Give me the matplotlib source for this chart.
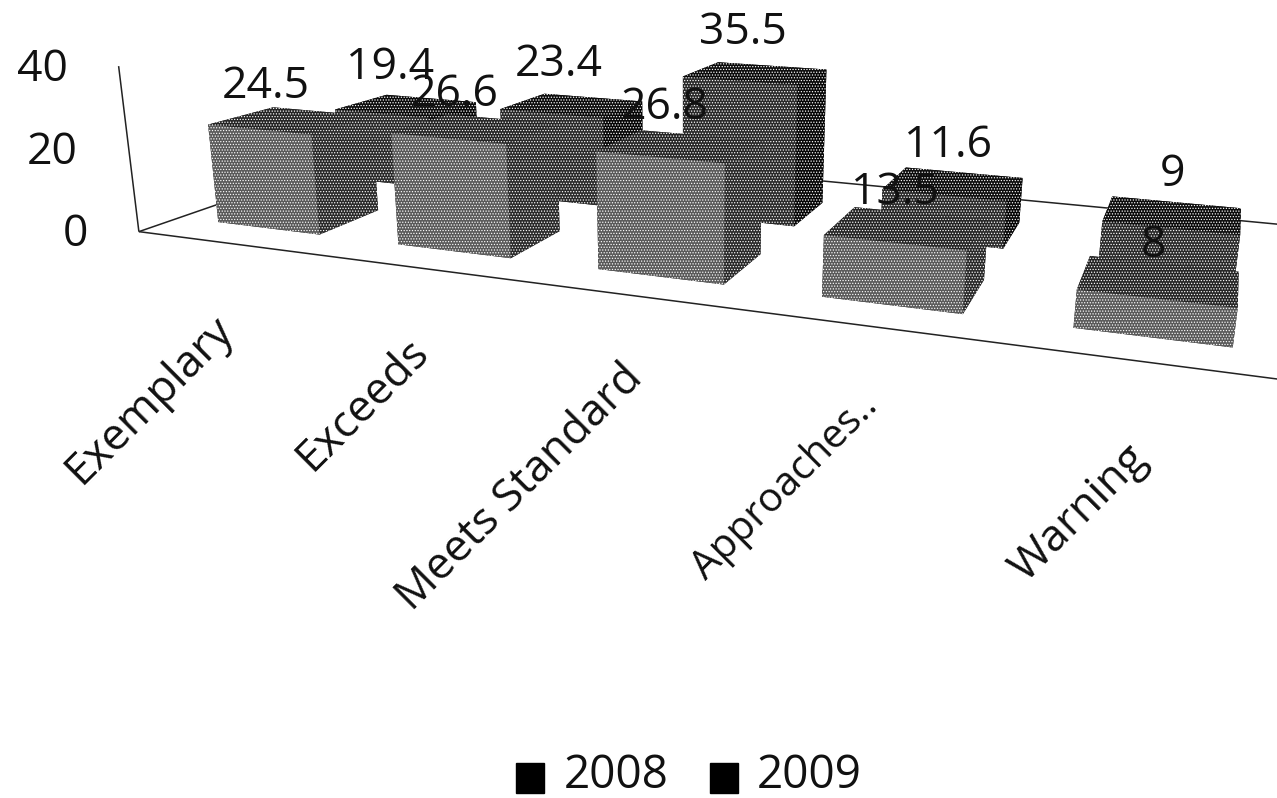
import numpy as np
import matplotlib
matplotlib.use("Agg")
import matplotlib.pyplot as plt
from matplotlib.patches import Patch
from mpl_toolkits.mplot3d.art3d import Line3DCollection

plt.rcParams['font.family'] = ['Open Sans', 'DejaVu Sans']
plt.rcParams['hatch.color'] = 'white'
plt.rcParams['hatch.linewidth'] = 0.55

categories = ['Exemplary', 'Exceeds', 'Meets Standard', 'Approaches..', 'Warning']
values_2008 = [24.5, 26.6, 26.8, 13.5, 8]
values_2009 = [19.4, 23.4, 35.5, 11.6, 9]
y_ticks = [0, 20, 40]

# bar footprint inside a category cell / a series row
XL, XR = 0.225, 0.8
F0, F1 = 0.2, 0.72    # 2008 row depth
B0, B1 = 1.27, 1.8    # 2009 row depth

# camera calibration: (cell, x side, depth, height, reference pixel, weight)
calib = [
 (0,0,0,0,149,228,1),(0,0,0,40,131,62,.4),(0,0,2,0,386,147,1),
 (0,XL,F0,0,218,222,1),(0,XR,F0,0,320,233,1),(0,XR,F1,0,368,212,1),(0,XL,F0,24.5,212,125,1),(0,XR,F0,24.5,317,133,1),(0,XL,F1,24.5,263,111,1),
 (1,XL,F0,0,400,243,1),(1,XR,F0,0,512,257,1),(1,XR,F1,0,553,231,1),(1,XR,F0,26.6,510,140,1),
 (2,XL,F0,0,600,268,1),(2,XR,F0,0,725,283,1),(2,XR,F1,0,755,259,1),(2,XL,F0,26.8,597,150,1),(2,XR,F0,26.8,725,163,1),(2,XL,F1,26.8,633,135,1),
 (3,XL,F0,0,823,295,1),(3,XR,F0,0,965,312,1),(3,XR,F1,0,982,290,1),(3,XL,F0,13.5,825,236,1),(3,XL,F1,13.5,853,212,1),
 (4,XL,F0,0,1073,325,1),(4,XR,F0,0,1230,345,1),(4,XL,F0,8,1076,288,1),(4,XR,F0,8,1233,310,1),(4,XL,F1,8,1088,261,1),(4,XR,F1,8,1237,275,1),
 (0,XL,B0,19.4,340,108,1),(0,XL,B1,19.4,383,97,1),(0,XR,B1,19.4,472,103,1),
 (1,XL,B0,23.4,507,107,1),
 (2,XL,B0,35.5,688,75,2),(2,XL,B1,35.5,713,63,2),(2,XR,B1,35.5,823,70,2),(2,XR,B0,35.5,802,83,2),(2,XR,B0,0,798,222,1),(2,XR,B1,0,820,205,1),
 (3,XL,B1,11.6,907,169,1),(3,XR,B1,11.6,1022,179,1),(3,XR,B0,0,1007,243,1),(3,XR,B1,0,1019,220,1),
 (4,XL,B1,9,1113,198,1),(4,XR,B1,9,1242,209,1),(4,XL,B0,9,1107,225,1),(4,XL,B0,0,1102,256,1),(4,XR,B0,0,1237,268,1),
]
A = []
for c, s, y, z, u, v, w in calib:
    x = c + s
    A.append([w*k for k in [x, y, z, 1, 0, 0, 0, 0, -u*x, -u*y, -u*z, -u]])
    A.append([w*k for k in [0, 0, 0, 0, x, y, z, 1, -v*x, -v*y, -v*z, -v]])
P = np.linalg.svd(np.array(A, float))[2][-1].reshape(3, 4)
P = P / P[2, 3]
M = np.array([P[0], P[1], [-0.5, 1.0, -0.02, 0.0], P[2]])

fig = plt.figure(figsize=(12.77, 7.98), dpi=100)
ax = fig.add_axes([0, 0, 1, 1], projection='3d')
ax.get_proj = lambda: M
ax.apply_aspect = lambda position=None: None
ax.viewLim.intervalx = (0, 1277)
ax.viewLim.intervaly = (798, 0)
ax.set_axis_off()
ax.computed_zorder = False

front, back = -0.1, 2.3
frame = [[(0, front, 0), (0, front, 40)], [(0, front, 0), (5.4, front, 0)],
         [(0, front, 0), (0, back, 0)], [(0, back, 0), (5.4, back, 0)]]
ax.add_collection3d(Line3DCollection(frame, colors='#222222', linewidths=1.1, zorder=0.5))

# face order: bottom, top, front, back, left, right
faces_2009 = ['#050505', '#0c0c0c', '#2a2a2a', '#050505', '#050505', '#060606']
faces_2008 = ['#222222', '#252525', '#5a5a5a', '#222222', '#222222', '#2a2a2a']
for row, (vals, faces, y0, y1) in enumerate([(values_2009, faces_2009, B0, B1),
                                             (values_2008, faces_2008, F0, F1)]):
    for i, v in enumerate(vals):
        ax.bar3d(i + XL, y0, 0, XR - XL, y1 - y0, v, color=faces, shade=False,
                 edgecolor='none', linewidth=0, hatch='......',
                 zorder=1 + row * 10 + i)

W, H = 1277.0, 798.0
def put(px, py, s, **kw):
    fig.text(px / W, 1 - py / H, s, fontsize=kw.pop('fontsize', 32), color='#111111', **kw)

for t, (px, py) in zip(y_ticks, [(88, 235), (78, 153), (68, 70)]):
    put(px, py, str(t), ha='right', va='center')

label_pos_2008 = [(266, 87), (455, 95), (665, 108), (895, 193), (1153, 246)]
label_pos_2009 = [(390, 68), (559, 65), (743, 33), (948, 146), (1172, 175)]
for vals, pos in [(values_2009, label_pos_2009), (values_2008, label_pos_2008)]:
    for v, (px, py) in zip(vals, pos):
        put(px, py, f'{v:g}', ha='center', va='center')

cat_pos = [(227, 323), (422, 345), (636, 372), (872, 400), (1141, 452)]
cat_size = [32, 32, 32, 29, 32]
for c, (px, py), fs in zip(categories, cat_pos, cat_size):
    put(px, py, c, ha='right', va='center', rotation=45, rotation_mode='anchor', fontsize=fs)

handles = [Patch(color='black', label='2008'), Patch(color='black', label='2009')]
leg = fig.legend(handles=handles, ncol=2, loc='center', bbox_to_anchor=(689 / W, 1 - 776 / H),
                 frameon=False, fontsize=33, handlelength=0.62, handleheight=0.62,
                 handletextpad=0.42, columnspacing=0.9, labelcolor='#111111')
for h in leg.legend_handles:
    h.set_y(h.get_y() - 4.5)

fig.savefig('out.png', dpi=100)
